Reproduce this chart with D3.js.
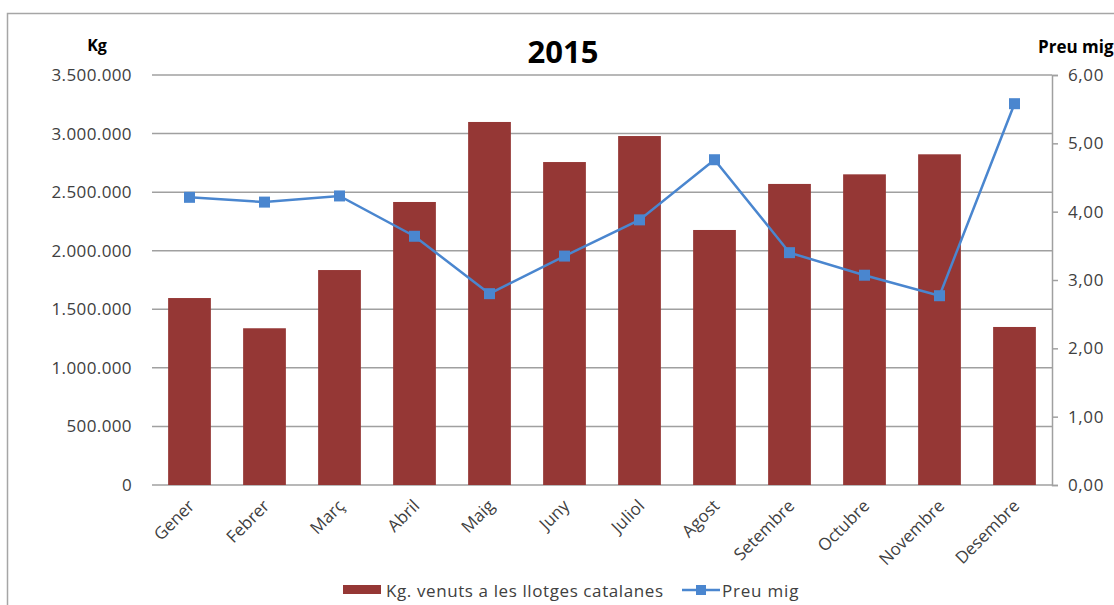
<!DOCTYPE html>
<html><head><meta charset="utf-8">
<script src="https://cdn.jsdelivr.net/npm/d3@7"></script>
<style>body{margin:0;background:#fff}svg{display:block}text{font-family:"Open Sans",sans-serif;fill:#404040}</style>
</head><body><svg id="c" width="1114" height="605"></svg>
<script>
const months = ["Gener","Febrer","Març","Abril","Maig","Juny","Juliol","Agost","Setembre","Octubre","Novembre","Desembre"];
const kgSold = [1596000,1338000,1835000,2416000,3099000,2757000,2979000,2177000,2570000,2652000,2823000,1349000];
const avgPrice = [4.21,4.14,4.23,3.64,2.80,3.35,3.88,4.76,3.40,3.07,2.77,5.58];
const kgTicks = [0,500000,1000000,1500000,2000000,2500000,3000000,3500000];
const priceTicks = [0,1,2,3,4,5,6];
const barLabel = "Kg. venuts a les llotges catalanes";
const lineLabel = "Preu mig";

const svg = d3.select("#c");
const L = 152, R = 1052, T = 75, B = 485;
const x = d3.scaleBand().domain(months).range([L, R]).paddingInner(0.43).paddingOuter(0.215);
const y = d3.scaleLinear().domain([0, 3500000]).range([B, T]);
const y2 = d3.scaleLinear().domain([0, 6]).range([B, T]);
const fmtKg = d => d3.format(",")(d).replace(/,/g, ".");
const fmtP = d => d.toFixed(2).replace(".", ",");

// frame
svg.append("rect").attr("x",7.5).attr("y",13.5).attr("width",1120).attr("height",620)
  .attr("fill","none").attr("stroke","#a6a6a6").attr("stroke-width",1.5);

// gridlines
svg.append("g").selectAll("line").data(kgTicks).join("line")
  .attr("x1",L).attr("x2",R).attr("y1",d=>y(d)).attr("y2",d=>y(d))
  .attr("stroke","#a0a0a0").attr("stroke-width",1.5);

// left axis
const gl = svg.append("g").attr("transform",`translate(${L},0)`)
  .call(d3.axisLeft(y).tickValues(kgTicks).tickFormat(fmtKg).tickSize(0).tickPadding(20));
gl.select(".domain").remove();
gl.selectAll("text").style("font-size","17px").style("letter-spacing","0.4px").attr("fill","#404040").attr("font-family","Open Sans");

// right axis
const gr = svg.append("g").attr("transform",`translate(${R},0)`)
  .call(d3.axisRight(y2).tickValues(priceTicks).tickFormat(fmtP).tickSize(6).tickPadding(10));
gr.select(".domain").attr("stroke","#a0a0a0").attr("stroke-width",1.5);
gr.selectAll(".tick line").attr("stroke","#a0a0a0").attr("stroke-width",1.5);
gr.selectAll("text").style("font-size","17px").style("letter-spacing","0.6px").attr("fill","#404040").attr("font-family","Open Sans");

// bars
svg.append("g").selectAll("rect").data(kgSold).join("rect")
  .attr("x",(d,i)=>x(months[i])).attr("width",x.bandwidth())
  .attr("y",d=>y(d)).attr("height",d=>B-y(d)).attr("fill","#953735");

// x axis labels
const gx = svg.append("g").attr("transform",`translate(0,${B})`)
  .call(d3.axisBottom(x).tickSize(0));
gx.select(".domain").remove();
gx.selectAll("text").style("font-size","17px").attr("fill","#404040").attr("font-family","Open Sans")
  .attr("text-anchor","end").attr("dy",0).attr("y",0)
  .attr("transform","translate(6,22) rotate(-45)");

// line
const cx = (d,i)=>x(months[i])+x.bandwidth()/2;
svg.append("path").datum(avgPrice)
  .attr("d", d3.line().x(cx).y(d=>y2(d)))
  .attr("fill","none").attr("stroke","#4A86CF").attr("stroke-width",2.5);
svg.append("g").selectAll("rect").data(avgPrice).join("rect")
  .attr("x",(d,i)=>cx(d,i)-5.5).attr("y",d=>y2(d)-5.5).attr("width",11).attr("height",11)
  .attr("fill","#4A86CF");

// titles
svg.append("text").attr("x",563).attr("y",63).attr("text-anchor","middle")
  .style("font-size","31px").style("font-weight","bold").style("fill","#000").text("2015");
svg.append("text").attr("x",97).attr("y",51).attr("text-anchor","middle")
  .style("font-size","16px").style("font-weight","bold").style("fill","#000").text("Kg");
svg.append("text").attr("x",1038).attr("y",53)
  .style("font-size","17px").style("font-weight","bold").style("fill","#000").text("Preu mig");

// legend
const lg = svg.append("g");
lg.append("rect").attr("x",343).attr("y",585).attr("width",38).attr("height",9).attr("fill","#953735");
lg.append("text").attr("x",386).attr("y",597).style("font-size","17px").style("letter-spacing","0.6px").text(barLabel);
lg.append("line").attr("x1",682).attr("x2",720).attr("y1",590).attr("y2",590).attr("stroke","#4A86CF").attr("stroke-width",2.5);
lg.append("rect").attr("x",696).attr("y",585).attr("width",10).attr("height",10).attr("fill","#4A86CF");
lg.append("text").attr("x",722).attr("y",597).style("font-size","17px").style("letter-spacing","0.8px").text(lineLabel);
</script></body></html>
